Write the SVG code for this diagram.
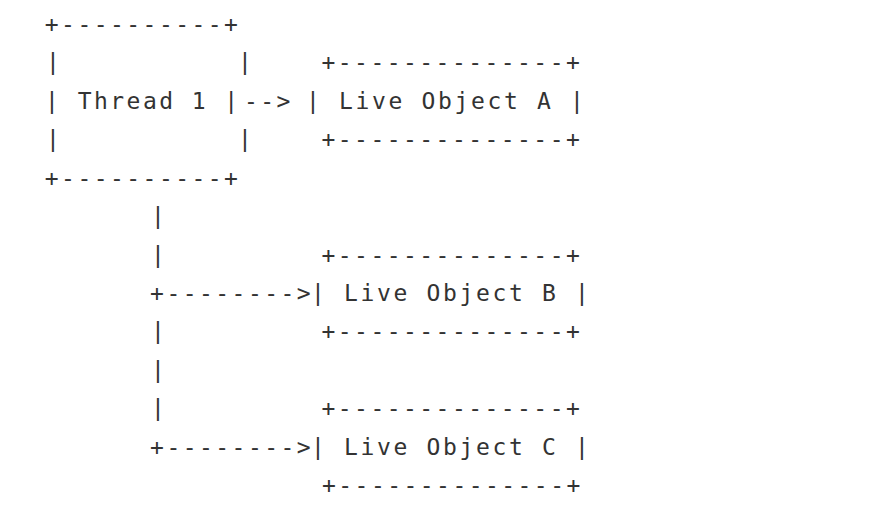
<svg xmlns="http://www.w3.org/2000/svg" width="882" height="524" viewBox="0 0 882 524">
<style>
.t{font-family:"DejaVu Sans Mono","Liberation Mono",monospace;font-size:23px;letter-spacing:2.45px;fill:#333}
.w{letter-spacing:2.65px}
</style>
<rect width="882" height="524" fill="#fff"/>
<g id="thread1">
<text class="t" x="44.8" y="32">+----------+</text>
<text class="t" x="46.1" y="70.4">|</text>
<text class="t" x="238.1" y="70.4">|</text>
<text class="t" x="45.1" y="108.8">| Thread 1 |</text>
<text class="t" x="46.1" y="147.3">|</text>
<text class="t" x="238.1" y="147.3">|</text>
<text class="t" x="44.8" y="185.7">+----------+</text>
</g>
<g id="objA">
<text class="t" x="321.5" y="70.4">+--------------+</text>
<text class="t w" x="306.1" y="108.8">| Live Object A |</text>
<text class="t" x="321.5" y="147.3">+--------------+</text>
</g>
<g id="objB">
<text class="t" x="321.5" y="262.5">+--------------+</text>
<text class="t w" x="311.1" y="300.9">| Live Object B |</text>
<text class="t" x="321.5" y="339.4">+--------------+</text>
</g>
<g id="objC">
<text class="t" x="321.5" y="416.2">+--------------+</text>
<text class="t w" x="311.1" y="454.6">| Live Object C |</text>
<text class="t" x="322" y="493">+--------------+</text>
</g>
<g id="connectors">
<text class="t" x="244" y="108.8">--&gt;</text>
<text class="t" x="151.1" y="224.1">|</text>
<text class="t" x="151.1" y="262.5">|</text>
<text class="t" x="150.1" y="300.9">+--------&gt;</text>
<text class="t" x="151.1" y="339.4">|</text>
<text class="t" x="151.1" y="377.8">|</text>
<text class="t" x="151.1" y="416.2">|</text>
<text class="t" x="150.1" y="454.6">+--------&gt;</text>
</g>
</svg>
